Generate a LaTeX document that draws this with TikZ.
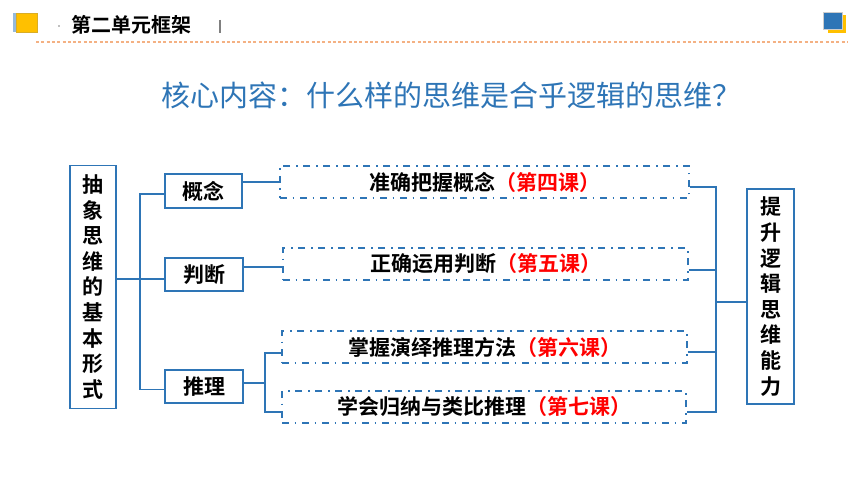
\documentclass[tikz,border=0pt]{standalone}
\usepackage{fontspec}
\setmainfont{Noto Sans CJK SC}[BoldFont={Noto Sans CJK SC Bold}]
\usepackage{tikz}
\usetikzlibrary{positioning}
\definecolor{myblue}{RGB}{46, 117, 182}
\definecolor{myyellow}{RGB}{255, 192, 0}
\definecolor{myorange}{RGB}{244, 177, 131}

\begin{document}
\begin{tikzpicture}[x=1pt, y=-1pt, line width=1.6pt,
    every node/.style={inner sep=0pt, font=\bfseries\fontsize{21}{25.6}\selectfont},
    solidbox/.style={draw=myblue, rectangle},
    dashbox/.style={draw=myblue, line width=1.4pt, rectangle, minimum height=32pt,
      dash pattern=on 7pt off 5.5pt on 1.5pt off 6pt}]
  \useasboundingbox (0,0) rectangle (860,484);

  % header
  \fill[myblue!50] (13,13) rectangle (16.5,32);
  \draw[myyellow!70!gray, line width=0.6pt, fill=myyellow] (16.5,13) rectangle (37,32);
  \fill[gray] (59,26) circle (0.8pt);
  \node[anchor=west, font=\bfseries\fontsize{20}{20}\selectfont] (h1) at (71,25) {第二单元框架};
  \draw[gray, line width=1.2pt] (220,20) -- (220,33);
  \draw[myorange, line width=1.3pt, dash pattern=on 3pt off 2.3pt] (36,42) -- (848,42);
  \fill[myyellow] (828,15) rectangle (846,33);
  \draw[gray!40, line width=0.6pt, fill=myblue] (823,12) rectangle (842,29);

  \node[font=\fontsize{29}{29}\selectfont, text=myblue] (t1) at (451,95) {核心内容：什么样的思维是合乎逻辑的思维？};

  \node[solidbox, minimum width=46pt, minimum height=243pt, align=center] (b1) at (93,287)
    {抽\\象\\思\\维\\的\\基\\本\\形\\式};
  \node[solidbox, minimum width=77pt, minimum height=34pt] (c1) at (203.5,191) {概念};
  \node[solidbox, minimum width=78pt, minimum height=33pt] (c2) at (204,274.5) {判断};
  \node[solidbox, minimum width=78pt, minimum height=33pt] (c3) at (204,386.5) {推理};

  \node[dashbox, minimum width=409pt] (d1) at (484.5,182) {准确把握概念\textcolor{red}{（第四课）}};
  \node[dashbox, minimum width=405pt] (d2) at (485.5,264) {正确运用判断\textcolor{red}{（第五课）}};
  \node[dashbox, minimum width=405pt] (d3) at (484.5,347) {掌握演绎推理方法\textcolor{red}{（第六课）}};
  \node[dashbox, minimum width=404pt] (d4) at (484,407) {学会归纳与类比推理\textcolor{red}{（第七课）}};

  \node[solidbox, minimum width=47pt, minimum height=215pt, align=center] (r1) at (770.5,296.5)
    {提\\升\\逻\\辑\\思\\维\\能\\力};

  \coordinate (j1) at (140,279);
  \coordinate (j2) at (265,383);
  \coordinate (j3) at (716,302);

  \draw[myblue] (b1.east |- j1) -- (c2.west |- j1);
  \draw[myblue] ([yshift=-3pt]c1.west) -| (j1) |- ([yshift=-3pt]c3.west);
  \draw[myblue] (c1.east |- d1.west) -- (d1.west);
  \draw[myblue] ([yshift=-3pt]c2.east |- d2.west) -- ([yshift=-3pt]d2.west);
  \draw[myblue] (c3.east |- j2) -- (j2);
  \draw[myblue] ([yshift=-6pt]d3.west) -| (j2) |- ([yshift=-5pt]d4.west);
  \draw[myblue] ([yshift=-5pt]d1.east) -| (j3) |- ([yshift=-5pt]d4.east);
  \draw[myblue] ([yshift=-6pt]d2.east) -- ([yshift=-6pt]d2.east -| j3);
  \draw[myblue] ([yshift=-5pt]d3.east) -- ([yshift=-5pt]d3.east -| j3);
  \draw[myblue] (j3) -- (j3 -| r1.west);
\end{tikzpicture}
\end{document}
